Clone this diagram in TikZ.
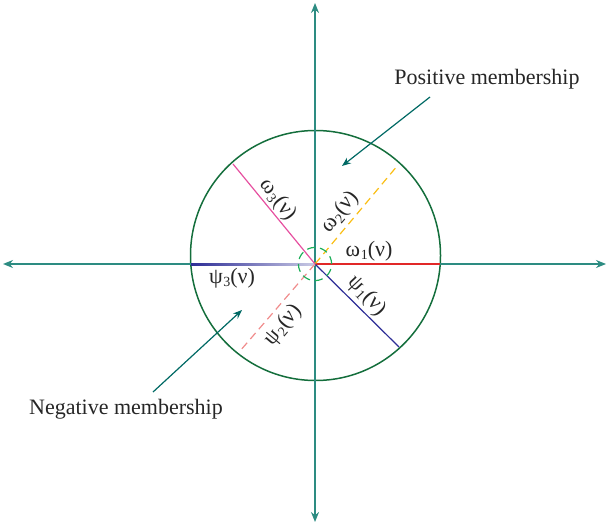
\documentclass[tikz,border=0pt]{standalone}
\usepackage{fontspec}
\setmainfont{Liberation Serif}
\usetikzlibrary{arrows.meta}
\definecolor{axisteal}{RGB}{45,140,130}
\definecolor{tipteal}{RGB}{0,105,100}
\definecolor{circgreen}{RGB}{20,110,60}
\definecolor{dashgreen}{RGB}{30,175,90}
\definecolor{wred}{RGB}{225,40,40}
\definecolor{pnavy}{RGB}{45,45,150}
\definecolor{worange}{RGB}{250,190,20}
\definecolor{wpink}{RGB}{230,80,160}
\definecolor{ppink}{RGB}{240,140,140}
\newcommand{\lab}[2]{#1\kern0.3pt\raisebox{-0.35ex}{\fontsize{7}{8}\selectfont #2}(ν)}
\tikzset{
  axisline/.style={draw=axisteal, line width=1pt, {Stealth[length=5pt,width=4pt,fill=tipteal]}-{Stealth[length=5pt,width=4pt,fill=tipteal]}},
  callout/.style={draw=tipteal, line width=0.6pt, -{Stealth[length=4.5pt,width=3.5pt]}},
  lbl/.style={font=\fontsize{11}{12}\selectfont, inner sep=0pt, text=black!85},
  caption/.style={font=\fontsize{11}{12}\selectfont, inner sep=0pt, text=black!85},
}
\begin{document}
\begin{tikzpicture}[x=0.5pt,y=-0.5pt]
\useasboundingbox (0,0) rectangle (608,523);
% named points
\coordinate (O) at (315,264);
\coordinate (C) at (315.5,255.5);
\coordinate (AxL) at (3,264);
\coordinate (AxR) at (606,264);
\coordinate (AxT) at (315,3);
\coordinate (AxB) at (315,522);
\coordinate (W1) at (440,264);
\coordinate (P3) at (191,264);
\coordinate (W2) at (398,165);
\coordinate (W3) at (233,164);
\coordinate (P1) at (399,347);
\coordinate (P2) at (240,351);
% main circle
\draw[circgreen, line width=0.75pt] (C) circle[radius=62.5pt];
% axes
\draw[axisline] (AxL) -- (AxR);
\draw[axisline] (AxT) -- (AxB);
% membership lines
\draw[wred, line width=0.7pt] (O) -- (W1);
\shade[left color=pnavy, right color=pnavy!25] (191,263) rectangle (315,265);
\draw[worange, line width=0.6pt, dash pattern=on 4pt off 2.5pt] (O) -- (W2);
\draw[wpink, line width=0.6pt] (O) -- (W3);
\draw[pnavy, line width=0.6pt] (O) -- (P1);
\draw[ppink, line width=0.6pt, dash pattern=on 4pt off 2.5pt] (O) -- (P2);
% small dashed circle
\draw[dashgreen, line width=0.6pt, dash pattern=on 4pt off 2.5pt] (O) circle[radius=8.3pt];
% labels
\node[lbl] (lw1) at (369,251) {\lab{ω}{1}};
\node[lbl, rotate=50] (lw2) at (340,212) {\lab{ω}{2}};
\node[lbl, rotate=-52] (lw3) at (278,200) {\lab{ω}{3}};
\node[lbl, rotate=-47] (lp1) at (367,296) {\lab{ψ}{1}};
\node[lbl, rotate=50] (lp2) at (283,325) {\lab{ψ}{2}};
\node[lbl] (lp3) at (232,278) {\lab{ψ}{3}};
% captions
\node[caption] (pos) at (487,79) {Positive membership};
\node[caption] (neg) at (126,409) {Negative membership};
\coordinate (posS) at (430,97);
\coordinate (posE) at (342,166);
\coordinate (negS) at (153,392);
\coordinate (negE) at (242,310);
\draw[callout] (posS) -- (posE);
\draw[callout] (negS) -- (negE);
\end{tikzpicture}
\end{document}
